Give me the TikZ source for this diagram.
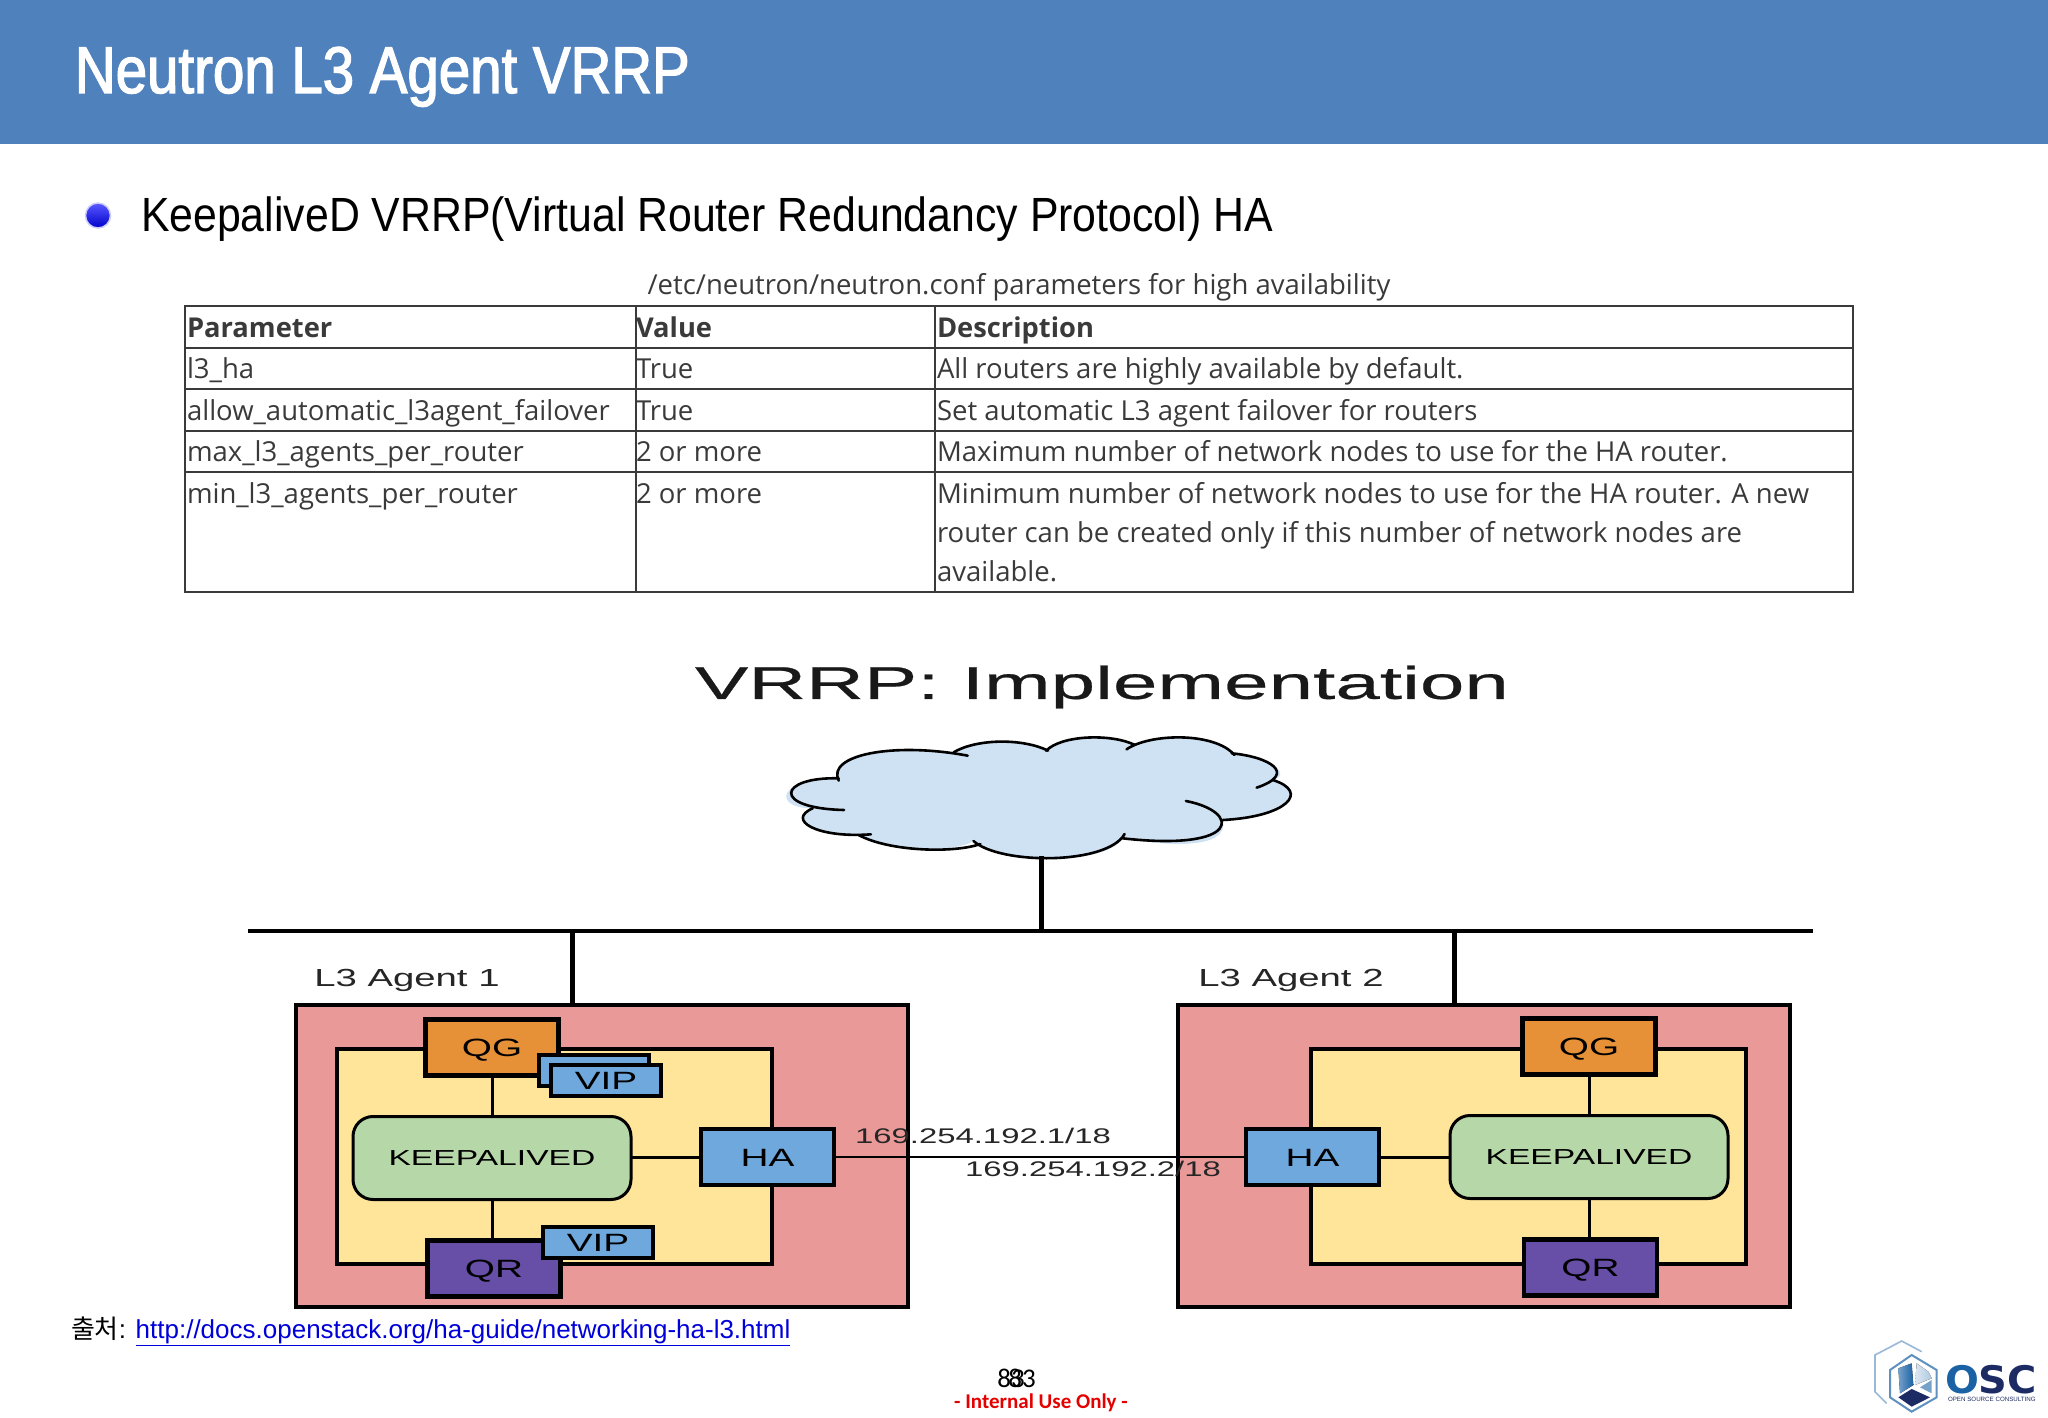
\documentclass[tikz,border=0pt]{standalone}
\usepackage{fontspec}
\setmainfont{Liberation Sans}
\newfontfamily\tablefont{Open Sans}
\newfontfamily\titlefont[FakeStretch=0.855,FakeBold=2]{Liberation Sans}
\newfontfamily\bulletfont[FakeStretch=0.892]{Liberation Sans}
\newfontfamily\labelfont[FakeStretch=1.55]{Liberation Sans}
\newfontfamily\bannerfont[FakeStretch=1.74,FakeBold=0.5]{Liberation Sans}
\newfontfamily\koreanfont{Noto Sans CJK KR}
\newfontfamily\footfont{Carlito}
\newfontfamily\logofont[FakeStretch=1.05]{DejaVu Sans}
\usetikzlibrary{arrows,arrows.meta,calc,positioning}

\definecolor{headerblue}{HTML}{4F81BD}
\definecolor{agentred}{HTML}{EA9999}
\definecolor{zoneyellow}{HTML}{FFE599}
\definecolor{qgorange}{HTML}{E69138}
\definecolor{haBlue}{HTML}{6FA8DC}
\definecolor{keepgreen}{HTML}{B6D7A8}
\definecolor{qrpurple}{HTML}{674EA7}
\definecolor{cloudblue}{HTML}{CFE2F3}
\definecolor{gridgrey}{HTML}{3A3A3A}
\definecolor{logoblue}{HTML}{1B62A5}
\definecolor{logonavy}{HTML}{1C2B63}

\begin{document}
\begin{tikzpicture}[
    x=1pt, y=-1pt,
    inner sep=0pt, outer sep=0pt,
    agent/.style={draw, line width=4.5pt, fill=agentred, minimum width=612pt, minimum height=302pt},
    zone/.style={draw, line width=4pt, fill=zoneyellow, minimum width=435pt, minimum height=215pt},
    portq/.style={draw, line width=4.5pt, minimum width=133pt, minimum height=56pt, text height=18pt, text depth=0pt, font=\labelfont\fontsize{25pt}{29pt}\selectfont},
    vip/.style={draw, line width=4pt, fill=haBlue, minimum width=110pt, minimum height=31pt, text height=18pt, text depth=0pt, font=\labelfont\fontsize{25pt}{29pt}\selectfont},
    keep/.style={draw, line width=3pt, fill=keepgreen, rounded corners=20pt, minimum width=278pt, minimum height=83pt, font=\labelfont\fontsize{21.7pt}{26pt}\selectfont},
    wire/.style={line width=3pt},
    trunk/.style={line width=5pt},
    cell/.style={anchor=base west, font=\tablefont\fontsize{27.5pt}{32pt}\selectfont, text=gridgrey},
    head/.style={anchor=base west, font=\tablefont\bfseries\fontsize{27.3pt}{32pt}\selectfont, text=gridgrey},
    iplabel/.style={font=\labelfont\fontsize{21.2pt}{25pt}\selectfont, text=black!85},
    agentlabel/.style={font=\labelfont\fontsize{24.7pt}{28pt}\selectfont, text=black!85},
    lobe/.style={line width=2.6pt, line cap=round}
]
\useasboundingbox (0,0) rectangle (2048,1418);

% 1) Header
\fill[headerblue] (0,0) rectangle (2048,144);
\node[anchor=base west, text=white, font=\titlefont\fontsize{66pt}{70pt}\selectfont] (title) at (75,93) {Neutron L3 Agent VRRP};

% 2) Bullet
\node[circle, minimum size=25pt, top color=blue!65!white, bottom color=blue!80!black, draw=blue!20, line width=1.5pt] (bullet) at (98,215.5) {};
\node[anchor=base west, font=\bulletfont\fontsize{48pt}{52pt}\selectfont] (topic) at (141,231) {KeepaliveD VRRP(Virtual Router Redundancy Protocol) HA};

% 3) Table
\node[font=\tablefont\fontsize{27.5pt}{32pt}\selectfont, text=gridgrey] (caption) at (1019,287.5) {/etc/neutron/neutron.conf parameters for high availability};
\draw[gridgrey, line width=2pt] (185,306) rectangle (1853,592);
\draw[gridgrey, line width=2pt] (185,347.5) -- (1853,347.5);
\draw[gridgrey, line width=2pt] (185,389) -- (1853,389);
\draw[gridgrey, line width=2pt] (185,431) -- (1853,431);
\draw[gridgrey, line width=2pt] (185,472) -- (1853,472);
\draw[gridgrey, line width=2pt] (635.5,306) -- (635.5,592);
\draw[gridgrey, line width=2pt] (935,306) -- (935,592);

\node[head] (parameter) at (187,337) {Parameter};
\node[head] (value) at (636,337) {Value};
\node[head] (description) at (937,337) {Description};

\node[cell] (ha) at (187,378) {l3\_ha};
\node[cell] (hav) at (636,378) {True};
\node[cell] (had) at (937,378) {All routers are highly available by default.};

\node[cell] (failover) at (187,420) {allow\_automatic\_l3agent\_failover};
\node[cell] (failoverv) at (636,420) {True};
\node[cell] (failoverd) at (937,420) {Set automatic L3 agent failover for routers};

\node[cell] (maxagents) at (187,461) {max\_l3\_agents\_per\_router};
\node[cell] (maxagentsv) at (636,461) {2 or more};
\node[cell] (maxagentsd) at (937,461) {Maximum number of network nodes to use for the HA router.};

\node[cell] (minagents) at (187,503) {min\_l3\_agents\_per\_router};
\node[cell] (minagentsv) at (636,503) {2 or more};
\node[cell] (minagentsd) at (937,503) {Minimum number of network nodes to use for the HA router. A new};
\node[cell] (minagentse) at (937,542) {router can be created only if this number of network nodes are};
\node[cell] (minagentsf) at (937,581) {available.};

% 4) Diagram title
\node[font=\bannerfont\fontsize{46pt}{50pt}\selectfont, text=black!90] (banner) at (1102,687) {VRRP: Implementation};

% 5) Cloud
\begin{scope}[shift={(740,720)}, x=0.3827pt, y=-0.3333pt]
\fill[cloudblue] (780,230) ellipse (500 and 140);
\fill[cloudblue] (258,182) .. controls (225,105) and (400,65) .. (595,107)
  -- (558,97) .. controls (620,55) and (740,55) .. (805,92)
  -- (800,92) .. controls (840,45) and (970,40) .. (1032,75)
  -- (1010,88) .. controls (1070,40) and (1240,35) .. (1292,105)
  -- (1285,100) .. controls (1370,110) and (1450,160) .. (1392,180)
  .. controls (1490,215) and (1430,290) .. (1262,300)
  .. controls (1280,395) and (1100,375) .. (1000,355)
  .. controls (960,435) and (680,435) .. (610,363)
  .. controls (560,400) and (390,395) .. (310,345)
  .. controls (200,355) and (120,300) .. (190,265)
  .. controls (80,265) and (100,170) .. (258,175) -- cycle;
\draw[lobe] (258,182) .. controls (225,105) and (400,65) .. (595,107);
\draw[lobe] (558,97) .. controls (620,55) and (740,55) .. (805,92);
\draw[lobe] (800,92) .. controls (840,45) and (970,40) .. (1032,75);
\draw[lobe] (1010,88) .. controls (1070,40) and (1240,35) .. (1292,105);
\draw[lobe] (1285,100) .. controls (1380,110) and (1460,160) .. (1350,203);
\draw[lobe] (1392,180) .. controls (1490,215) and (1430,290) .. (1262,300);
\draw[lobe] (1165,243) .. controls (1310,275) and (1310,395) .. (1000,355);
\draw[lobe] (1005,342) .. controls (960,435) and (680,435) .. (610,363);
\draw[lobe] (628,372) .. controls (560,400) and (390,395) .. (310,345);
\draw[lobe] (342,343) .. controls (200,355) and (120,300) .. (190,265);
\draw[lobe] (272,270) .. controls (80,265) and (100,170) .. (258,175);
\end{scope}
\coordinate (cloud) at (1041,856);

% 6) Bus
\coordinate (busl) at (248,931);
\coordinate (busr) at (1813,931);
\coordinate (tap1) at (572,931);
\coordinate (tap2) at (1454,931);
\draw[line width=3.5pt] (busl) -- (busr);
\draw[trunk] (cloud) -- (cloud |- busl);

% 7) L3 Agent 1
\node[agentlabel] (label1) at (407,980) {L3 Agent 1};
\node[agent] (agent1) at (602,1156) {};
\draw[trunk] (tap1) -- (tap1 |- agent1.north);
\node[zone] (zone1) at (554.5,1156.5) {};
\node[keep] (keep1) at (492,1158) {KEEPALIVED};
\node[portq, fill=qgorange, above=41pt of keep1] (qg1) {QG};
\node[portq, fill=qrpurple, below=41pt of keep1, xshift=2pt] (qr1) {QR};
\node[portq, fill=haBlue, right=70pt of keep1, yshift=1pt] (ha1) {HA};
\draw[wire] (qg1) -- (keep1);
\draw[wire] (keep1) -- (keep1 |- qr1.north);
\draw[wire] (keep1.east |- ha1) -- (ha1);
\node[vip] (vipback) at (594,1070) {};
\node[vip] (vipfront) at (606,1080) {VIP};
\node[vip] (vipqr) at (598,1242) {VIP};

% 8) L3 Agent 2
\node[agentlabel] (label2) at (1291,980) {L3 Agent 2};
\node[agent] (agent2) at (1484,1156) {};
\draw[trunk] (tap2) -- (tap2 |- agent2.north);
\node[zone] (zone2) at (1528.5,1156.5) {};
\node[keep] (keep2) at (1589,1157) {KEEPALIVED};
\node[portq, fill=qgorange, above=41pt of keep2] (qg2) {QG};
\node[portq, fill=qrpurple, below=41pt of keep2, xshift=1.5pt] (qr2) {QR};
\node[portq, fill=haBlue, left=71pt of keep2] (ha2) {HA};
\draw[wire] (qg2) -- (keep2);
\draw[wire] (keep2) -- (keep2 |- qr2.north);
\draw[wire] (ha2) -- (keep2);

% 9) HA link
\draw[line width=2.5pt] (ha1) -- (ha2);
\node[iplabel] (ip1) at (983,1136) {169.254.192.1/18};
\node[iplabel] (ip2) at (1093,1169) {169.254.192.2/18};

% 10) Source
\node[anchor=base west, font=\fontsize{26pt}{30pt}\selectfont] (source) at (71,1338) {{\koreanfont 출처}: \textcolor{blue!85!black}{\underline{http://docs.openstack.org/ha-guide/networking-ha-l3.html}}};

% 11) Footer
\node[font=\footfont\fontsize{27pt}{30pt}\selectfont] (page1) at (1011,1378) {83};
\node[font=\footfont\fontsize{27pt}{30pt}\selectfont] (page2) at (1022,1378) {83};
\node[font=\footfont\bfseries\fontsize{21pt}{24pt}\selectfont, text=red!90!black] (internal) at (1041,1403) {- Internal Use Only -};

% 12) Logo
\begin{scope}[shift={(1780,1310)}, x=0.3333pt, y=-0.3333pt]
\draw[line width=1.6pt, color=logoblue!45] (320,280) -- (285,245) -- (285,135) -- (365,93) -- (425,125);
\draw[line width=2pt, color=logoblue!70] (395,135) -- (470,180) -- (470,262) -- (395,305) -- (330,262) -- (330,180) -- cycle;
\fill[left color=logoblue!60!white, right color=logoblue] (355,175) -- (395,160) -- (400,225) -- (360,250) -- cycle;
\fill[left color=logoblue!15, right color=logoblue!35] (410,160) -- (445,185) -- (455,205) -- (405,225) -- cycle;
\fill[logoblue!60] (455,210) -- (455,250) -- (420,232) -- cycle;
\fill[logonavy] (395,237) -- (450,262) -- (395,290) -- (355,262) -- cycle;
\end{scope}
\node[anchor=base west, font=\logofont\bfseries\fontsize{38pt}{40pt}\selectfont] (osc) at (1945,1393) {\textcolor{logoblue}{O}\textcolor{logonavy}{SC}};
\node[anchor=base west, font=\fontsize{6.2pt}{8pt}\selectfont, text=logonavy] (oscline) at (1948,1401) {OPEN SOURCE CONSULTING};
\end{tikzpicture}
\end{document}
